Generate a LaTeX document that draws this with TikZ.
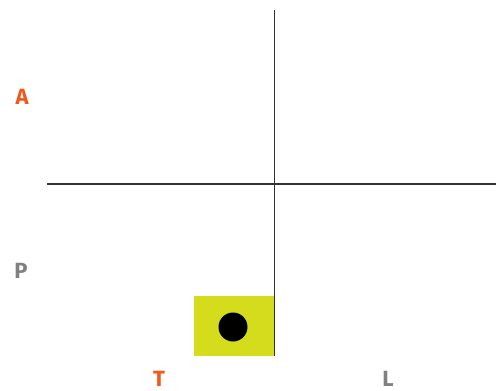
\documentclass[tikz,border=0pt]{standalone}
\usepackage{fontspec}
\setmainfont{Fira Sans}
\definecolor{orng}{HTML}{F0581C}
\definecolor{gry}{HTML}{808080}
\definecolor{ylw}{HTML}{D5DC1C}
\definecolor{ln}{HTML}{333333}
\begin{document}
\begin{tikzpicture}[x=1pt,y=-1pt,
  lbl/.style={font=\fontsize{22}{22}\selectfont\bfseries, inner sep=0pt},
  axis/.style={draw=ln, line width=1.8pt}]
\useasboundingbox (0,0) rectangle (496,391);
\node[fill=ylw, minimum width=80pt, minimum height=60pt, inner sep=0pt, anchor=north west] (box) at (194,296) {};
\node[circle, fill=black, minimum size=29pt, inner sep=0pt] (dot) at (233,327) {};
\coordinate (vtop) at (274.5,10);
\coordinate (vbot) at (274.5,356);
\coordinate (hl) at (47,184);
\coordinate (hr) at (496,184);
\draw[axis] (vtop) -- (vbot);
\draw[axis] (hl) -- (hr);
\node[lbl, text=orng] (a) at (22,97) {A};
\node[lbl, text=gry] (p) at (21,271) {P};
\node[lbl, text=orng] (t) at (159,379) {T};
\node[lbl, text=gry] (l) at (388,379) {L};
\end{tikzpicture}
\end{document}
